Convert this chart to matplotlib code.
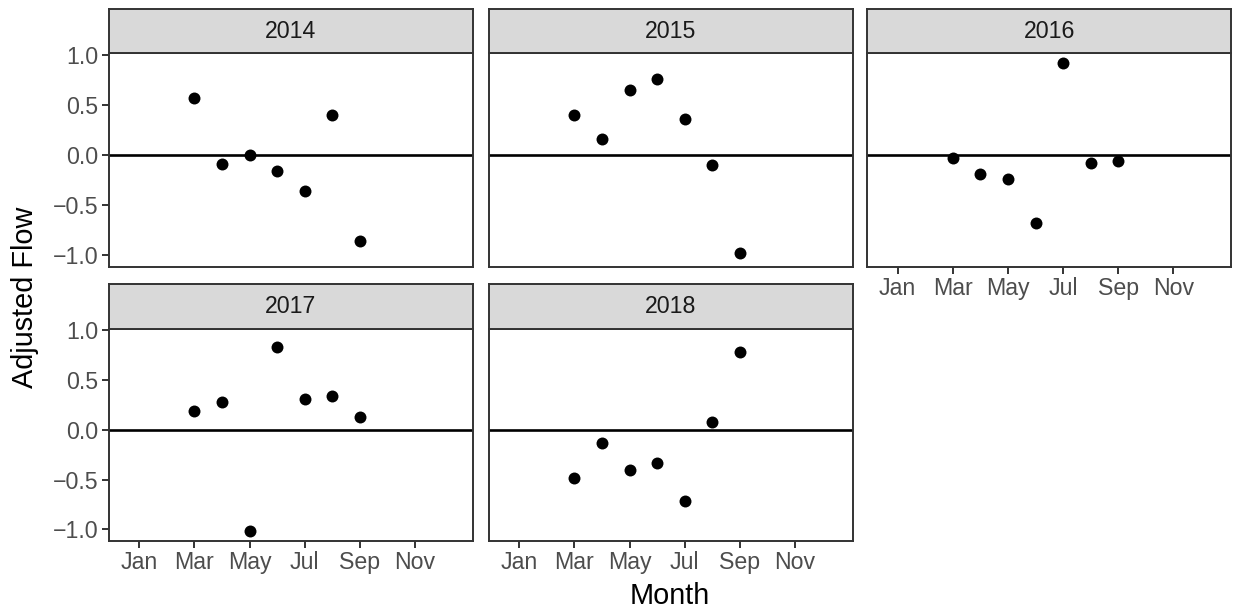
import numpy as np
import matplotlib as mpl; mpl.use("Agg")
import matplotlib.pyplot as plt

mpl.rcParams.update({
    "font.family": ["Liberation Sans", "DejaVu Sans"],
    "axes.linewidth": 1.4,
})

INK = "#333333"
TICKTXT = "#4D4D4D"
STRIP = "#D9D9D9"

# monthly adjusted flow, Mar..Sep of each year
MONTHS = [3, 4, 5, 6, 7, 8, 9]
YEARS = [2014, 2015, 2016, 2017, 2018]
FLOW_2014 = [0.57, -0.09, 0.00, -0.16, -0.36, 0.40, -0.86]
FLOW_2015 = [0.40, 0.16, 0.65, 0.76, 0.36, -0.10, -0.98]
FLOW_2016 = [-0.03, -0.19, -0.24, -0.68, 0.92, -0.08, -0.06]
FLOW_2017 = [0.19, 0.28, -1.02, 0.83, 0.31, 0.34, 0.13]
FLOW_2018 = [-0.48, -0.13, -0.40, -0.33, -0.71, 0.08, 0.78]
FLOWS = [FLOW_2014, FLOW_2015, FLOW_2016, FLOW_2017, FLOW_2018]

TICK_POS = [1, 3, 5, 7, 9, 11]
TICK_LAB = ["Jan", "Mar", "May", "Jul", "Sep", "Nov"]
YTICKS = [-1.0, -0.5, 0.0, 0.5, 1.0]

W, H = 1236, 612
fig = plt.figure(figsize=(W / 100, H / 100), dpi=100)

# panel geometry in pixels (left, top of strip, top of panel, bottom of panel)
COL_X = [109, 489, 867.3]
PW = 364
ROWS = [(9, 53.3, 267), (283.5, 328.7, 541)]


def px_axes(x0, y0, x1, y1):
    return fig.add_axes([x0 / W, 1 - y1 / H, (x1 - x0) / W, (y1 - y0) / H])


for i, (year, vals) in enumerate(zip(YEARS, FLOWS)):
    r, c = divmod(i, 3)
    s_top, p_top, p_bot = ROWS[r]
    x0 = COL_X[c]
    ax = px_axes(x0, p_top, x0 + PW, p_bot)
    ax.axhline(0, color="black", lw=1.9, zorder=2)
    ax.plot(MONTHS, vals, "o", color="black", ms=8.6, mec="none", zorder=3)
    ax.set_xlim(-0.1, 13.1)
    ax.set_ylim(-1.117, 1.017)
    for sp in ax.spines.values():
        sp.set_color(INK)
        sp.set_linewidth(1.4)
    ax.tick_params(length=5, width=1.4, color=INK, labelcolor=TICKTXT,
                   labelsize=16.7, pad=2.5)
    ax.set_xticks(TICK_POS)
    ax.set_yticks(YTICKS)
    ax.set_yticklabels([f"{v:.1f}".replace("-", "\u2212") for v in YTICKS])
    if c != 0:
        ax.tick_params(axis="y", left=False, labelleft=False)
    bottom = (r == 1) or (i == 2)
    if bottom:
        ax.set_xticklabels(TICK_LAB)
    else:
        ax.tick_params(axis="x", bottom=False, labelbottom=False)

    # facet strip
    sax = px_axes(x0, s_top, x0 + PW, p_top)
    sax.set_facecolor(STRIP)
    sax.set_xticks([])
    sax.set_yticks([])
    for sp in sax.spines.values():
        sp.set_color(INK)
        sp.set_linewidth(1.4)
    sax.text(0.5, 0.5, str(year), ha="center", va="center",
             fontsize=16.7, color="#1A1A1A", transform=sax.transAxes)

fig.text(670 / W, 1 - 596 / H, "Month", ha="center", va="center",
         fontsize=20.8, color="black")
fig.text(25 / W, 1 - 297 / H, "Adjusted Flow", ha="center", va="center",
         rotation=90, fontsize=20.8, color="black")

fig.savefig("out.png", dpi=100, facecolor="white")
